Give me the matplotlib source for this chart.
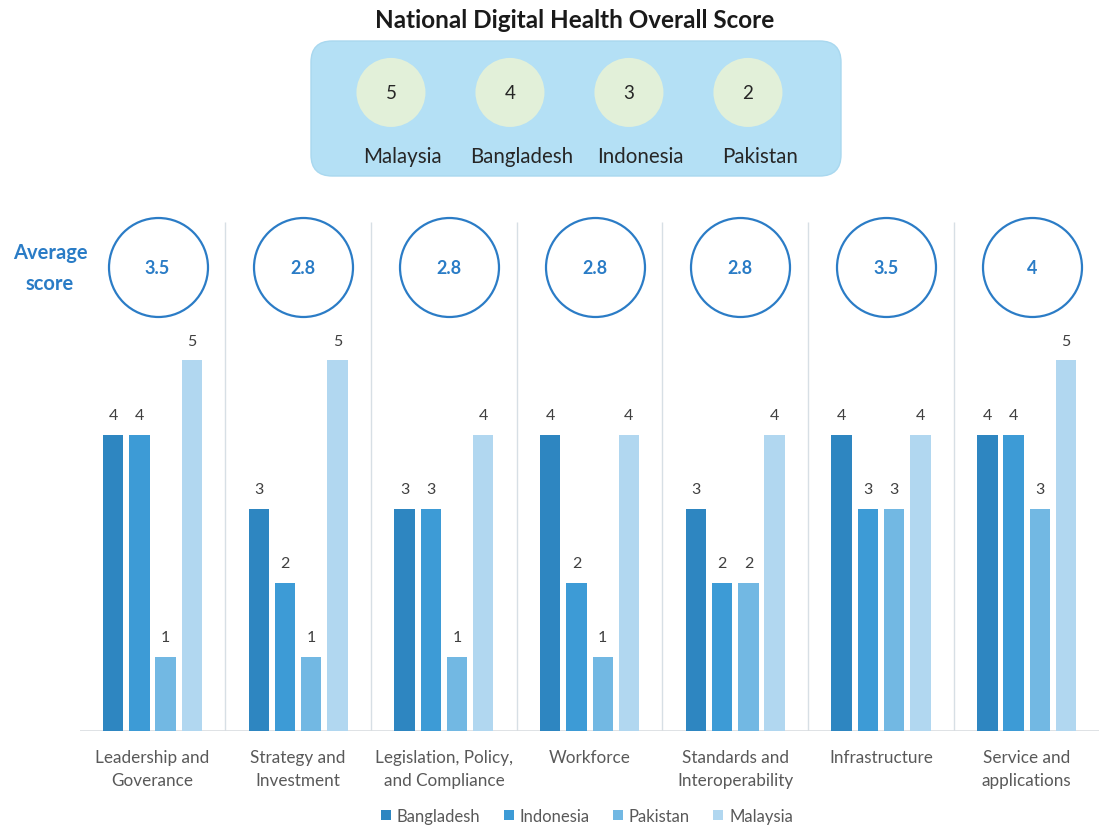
import matplotlib
matplotlib.use("Agg")
import matplotlib.pyplot as plt
import numpy as np
from matplotlib.patches import FancyBboxPatch

plt.rcParams['font.family'] = ['Lato', 'DejaVu Sans']

# ---------------- data ----------------
categories = ["Leadership and\nGoverance", "Strategy and\nInvestment",
              "Legislation, Policy,\nand Compliance", "Workforce",
              "Standards and\nInteroperability", "Infrastructure",
              "Service and\napplications"]
series_names = ["Bangladesh", "Indonesia", "Pakistan", "Malaysia"]
bangladesh = [4, 3, 3, 4, 3, 4, 4]
indonesia = [4, 2, 3, 2, 2, 3, 4]
pakistan = [1, 1, 1, 1, 2, 3, 3]
malaysia = [5, 5, 4, 4, 4, 4, 5]
average_scores = ["3.5", "2.8", "2.8", "2.8", "2.8", "3.5", "4"]

overall_countries = ["Malaysia", "Bangladesh", "Indonesia", "Pakistan"]
overall_scores = [5, 4, 3, 2]

colors = ["#2e86c1", "#3d9bd6", "#72b8e3", "#b1d7f0"]
blue_text = "#2a7cc6"

# ---------------- figure ----------------
W, H = 1099, 829
fig = plt.figure(figsize=(W / 100, H / 100), dpi=100)
fig.patch.set_facecolor("white")

# main bar axes
ax = fig.add_axes([79.6 / W, 97 / H, 1020 / W, 518.7 / H])
ax.set_xlim(-0.5, 6.5)
ax.set_ylim(0, 7.0)
for s in ax.spines.values():
    s.set_visible(False)
ax.set_yticks([])

x = np.arange(len(categories))
pitch = 0.18
width = 0.14
all_series = [bangladesh, indonesia, pakistan, malaysia]
bars = []
for k, (vals, name, c) in enumerate(zip(all_series, series_names, colors)):
    b = ax.bar(x + (k - 1.5) * pitch, vals, width=width, color=c, label=name,
               zorder=3)
    ax.bar_label(b, padding=9, fontsize=11.5, color="#404040")
    bars.append(b)

# separators and baseline
ax.vlines(x[:-1] + 0.5, 0, 6.87, color="#d7dfe5", lw=1.0, zorder=1)
ax.axhline(0, color="#d9dde0", lw=1.2, zorder=2)

ax.set_xticks(x)
ax.set_xticklabels(categories, fontsize=12.3, color="#595959", linespacing=1.55)
ax.tick_params(axis="x", length=0, pad=13)

# average score circles
cy = 6.26
ax.scatter(x + 0.035, [cy] * len(x), s=5080, facecolors="white",
           edgecolors="#2b7cc6", linewidths=1.6, zorder=4, clip_on=False)
for xi, a in zip(x, average_scores):
    ax.text(xi + 0.035, cy, a, ha="center", va="center", fontsize=13,
            fontweight="bold", color=blue_text, zorder=5)
ax.text(-0.703, cy, "Average\nscore", ha="center", va="center", fontsize=14.5,
        fontweight="bold", color=blue_text, linespacing=1.7)

# legend
fig.legend(handles=bars, labels=series_names, loc="center",
           bbox_to_anchor=(587 / W, 1 - 817 / H), ncol=4, frameon=False,
           handlelength=0.6, handleheight=0.6, handletextpad=0.35,
           columnspacing=1.4, fontsize=12, labelcolor="#595959")

# ---------------- overall score panel ----------------
tax = fig.add_axes([311 / W, (H - 177) / H, 530 / W, 135 / H])
tax.set_xlim(-0.672, 3.782)
tax.set_ylim(0, 1)
tax.axis("off")
box = FancyBboxPatch((0, 0), 1, 1, boxstyle="round,pad=0,rounding_size=0.04",
                     mutation_aspect=530 / 135, transform=tax.transAxes,
                     facecolor="#b4e0f5", edgecolor="#a9d8ef", lw=1,
                     zorder=0, clip_on=False)
tax.add_patch(box)
px = np.arange(len(overall_countries))
tax.scatter(px, [0.619] * len(px), s=2470, color="#e2f0d9", zorder=2,
            edgecolors="none")
for xi, sc, cn in zip(px, overall_scores, overall_countries):
    tax.text(xi, 0.619, str(sc), ha="center", va="center", fontsize=13.5,
             color="#262626", zorder=3)
    tax.text(xi + 0.1, 0.148, cn, ha="center", va="center", fontsize=14.8,
             color="#262626", zorder=3)

fig.text(575 / W, 1 - 21 / H, "National Digital Health Overall Score",
         ha="center", va="center", fontsize=17.5, fontweight="bold",
         color="#1a1a1a")

fig.savefig("out.png", dpi=100)
